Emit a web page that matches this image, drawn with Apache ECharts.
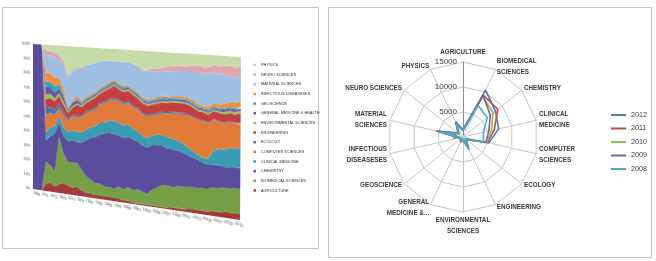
<!DOCTYPE html>
<html>
<head>
<meta charset="utf-8">
<title>Publications by field</title>
<script src="https://cdn.jsdelivr.net/npm/echarts@6.0.0/dist/echarts.min.js"></script>
<style>
    html, body { margin: 0; padding: 0; background: #fff; }
    #main { position: absolute; left: 0; top: 0; width: 656px; height: 261px; }
    #area { position: absolute; left: 0; top: 0; width: 300px; height: 200px; transform-origin: 0 0; }
</style>
</head>
<body>
<div id="main"></div>
<div id="area"></div>
<script>
var years = ['1969','1970','1971','1972','1973','1974','1975','1976','1977','1978',
    '1979','1980','1981','1982','1983','1984','1985','1986','1987','1988',
    '1989','1990','1991','1992','1993','1994','1995','1996','1997','1998',
    '1999','2000','2001','2002','2003','2004','2005','2006','2007','2008',
    '2009','2010','2011','2012'];

// share of each field per year (%), stacked bottom to top
var agriculture = [0,0,0,5,6,4,6,7,6,5,6,4,3,3,2,2,2,2,2,2,1.5,1.5,1,1,1,1,1,1,1,1,1.5,1.5,1.5,2,2,2,2.5,2.5,3,3,3.5,3.5,4,4];
var biomedical = [0,0,0,15,12,10,32,20,16,17,16,14,11,9,8,8,7,7,6,8,7,9,8,9,8,7,10,12,14,14,13,14,14,14,14,14,14,14,15,15,15,15,15,15];
var chemistry = [100,100,100,15,20,26,10,12,14,15,14,18,24,28,31,33,35,36,36,34,34,33,33,31,30,30,29,27,25,24,24,23,22,20,19,18,16,15,14,14,13,13,13,13];
var clinical = [0,0,0,5,6,5,4,6,6,7,7,7,7,7,7,8,7,8,9,8,8,8,7,7,6,6,6,7,7,7,7,6,6,5,4,3,3,4,9,10,11,12,12,12];
var computer = [0,0,0,12,10,8,6,8,8,9,10,10,11,11,11,12,13,13,14,14,14,14,14,14,14,14,13,13,14,15,16,17,18,20,21,22,23,22,19,17,16,16,15,15];
var ecology = [0,0,0,5,4,3,3,2,1,1,1,1,1,1,1,1,1,1,1,1,1,1,1,1,1,1,1,1,1,1,1,1,1,1,0.5,0.5,0.5,0.5,0.5,0.5,0.5,0.5,0.5,0.5];
var engineering = [0,0,0,6,6,6,5,5,4,5,7,6,6,6,7,6,7,7,8,7,7,7,7,6,6,6,6,6,6,6,6,6,6,6,6,5,5,5,5,5,5,5,5,6];
var environmental = [0,0,0,3,3,2,2,2,1,1,1,1,1,1,1,1,1,1,1,1,1,1,1,1,1,1,1,1,1,1,1,1,1,1,1,1,1,1,1,1,1.5,1.5,1.5,1.5];
var generalMedicine = [0,0,0,5,4,4,3,3,1,2,2,1,1,1,1,1,1,1,1,1,1,1,1,1,1,1,1,1,1,1,1,1,1,1,1,1,1,1,1,1,1.5,1.5,1.5,1.5];
var geoscience = [0,0,0,4,4,4,3,2,1,1,1,1,1,1,1,1,1,1,1,1,1,1,1,1,1,1,1,1,1,1,1,1,1,1,1,1,0.5,1,1,1,1,1,1,1];
var infectious = [0,0,0,6,6,6,4,4,1,1,2,1,1,1,1,1,1,1,1,1,1,1,1,1,1,1,1,1,1,1,1,1.5,1.5,1.5,1.5,1.5,1.5,1.5,2,2,2.5,3,3,3.5];
var material = [0,0,0,12,12,14,12,17,20,19,18,22,21,20,19,17,16,14,12,14,15.5,14.5,16,16,17,18,17,16,16,16,15.5,16,16,16.5,18,20,20,21,19,19,18,16,16,15];
var neuro = [0,0,0,3,3,3,3,2,1,1,1,0,0,0,0,0,0,0,0,0,0,0,0,1,1,1,2,2,2,3,3,3,3,3,4,4,4,4,4.5,5,5.5,6,6,6];
var physics = [0,0,0,4,4,5,7,10,20,16,14,14,12,11,10,9,8,8,8,8,8,8,9,10,12,12,11,11,10,9,9,8,8,8,7,7,8,7.5,6,6.5,6,6,6.5,6];

var fields = ['AGRICULTURE','BIOMEDICAL SCIENCES','CHEMISTRY','CLINICAL MEDICINE','COMPUTER SCIENCES',
    'ECOLOGY','ENGINEERING','ENVIRONMENTAL SCIENCES','GENERAL MEDICINE & HEALTH','GEOSCIENCE',
    'INFECTIOUS DISEASESES','MATERIAL SCIENCES','NEURO SCIENCES','PHYSICS'];
var shares = [agriculture, biomedical, chemistry, clinical, computer, ecology, engineering,
    environmental, generalMedicine, geoscience, infectious, material, neuro, physics];
var fieldColors = ['#a33b3b','#77a046','#5b4d9d','#3a9cb3','#e07a38','#3f78b8','#c43f3f',
    '#9bbf5e','#6654a6','#37a7bd','#f68b3d','#9dc0e2','#e0a5ad','#c6dba8'];

// radar: publications per field, clockwise from the top
var radarFields = ['AGRICULTURE','BIOMEDICAL\nSCIENCES','CHEMISTRY','CLINICAL\nMEDICINE','COMPUTER\nSCIENCES',
    'ECOLOGY','ENGINEERING','ENVIRONMENTAL\nSCIENCES','GENERAL\nMEDICINE &...','GEOSCIENCE',
    'INFECTIOUS\nDISEASESES','MATERIAL\nSCIENCES','NEURO SCIENCES','PHYSICS'];
var radarMax = 15000;
var radarYears = ['2012','2011','2010','2009','2008'];
var pub2012 = [1500,10400,8300,7300,5300,800,2700,600,900,600,800,5400,1300,3200];
var pub2011 = [1400,9300,8900,6400,5000,700,2500,600,1100,600,700,5100,1200,3100];
var pub2010 = [1300,9000,7700,5800,4900,700,2400,500,800,500,700,4900,1100,3000];
var pub2009 = [1300,9200,7000,5300,4700,600,2400,500,800,500,700,4800,1100,3300];
var pub2008 = [1200,7000,6200,4200,4200,600,2300,500,700,500,600,4700,1000,2800];
var yearColors = ['#4a7ebb','#be4b48','#98b954','#7d60a0','#4bacc6'];

// projective matrix taking the grid rectangle onto a quadrilateral (tilted 3d look)
function quadMatrix(gl, gt, gw, gh, q) {
    var x0 = q[0][0], y0 = q[0][1], x1 = q[1][0], y1 = q[1][1];
    var x2 = q[2][0], y2 = q[2][1], x3 = q[3][0], y3 = q[3][1];
    var dx1 = x1 - x2, dx2 = x3 - x2, dx3 = x0 - x1 + x2 - x3;
    var dy1 = y1 - y2, dy2 = y3 - y2, dy3 = y0 - y1 + y2 - y3;
    var den = dx1 * dy2 - dx2 * dy1;
    var g = (dx3 * dy2 - dx2 * dy3) / den;
    var h = (dx1 * dy3 - dx3 * dy1) / den;
    var a = x1 - x0 + g * x1, b = x3 - x0 + h * x3, c = x0;
    var d = y1 - y0 + g * y1, e = y3 - y0 + h * y3, f = y0;
    var m = [
        a / gw, d / gw, 0, g / gw,
        b / gh, e / gh, 0, h / gh,
        0, 0, 1, 0,
        c - a * gl / gw - b * gt / gh, f - d * gl / gw - e * gt / gh, 0, 1 - g * gl / gw - h * gt / gh
    ];
    return 'matrix3d(' + m.join(',') + ')';
}

var font = 'Liberation Sans';

(function () {
    // ---- left: 100% stacked area ----
    var GL = 45, GT = 20, GW = 207, GH = 145;
    var areaDom = document.getElementById('area');
    areaDom.style.transform = quadMatrix(GL, GT, GW, GH, [[33, 44], [241, 57], [240, 220], [33, 189]]);
    var areaChart = echarts.init(areaDom);

    var areaSeries = [];
    for (var i = 0; i < fields.length; i++) {
        areaSeries.push({
            name: fields[i],
            type: 'line',
            stack: 'share',
            data: shares[i],
            symbol: 'none',
            lineStyle: { width: 0 },
            areaStyle: { color: fieldColors[i], opacity: 1 },
            itemStyle: { color: fieldColors[i] }
        });
    }

    areaChart.setOption({
        animation: false,
        textStyle: { fontFamily: font },
        grid: { left: GL, top: GT, width: GW, height: GH },
        xAxis: {
            type: 'category',
            data: years,
            boundaryGap: false,
            axisLine: { show: false },
            axisTick: { show: false },
            axisLabel: { interval: 1, fontSize: 3.7, color: '#444', rotate: -14, margin: 3 }
        },
        yAxis: {
            type: 'value',
            min: 0,
            max: 100,
            interval: 10,
            axisLine: { show: false },
            axisTick: { show: false },
            splitLine: { show: false },
            axisLabel: { formatter: '{value}%', fontSize: 3.7, color: '#444', margin: 3 }
        },
        series: areaSeries
    });

    // ---- panels, radar and legends ----
    var main = echarts.init(document.getElementById('main'));

    // echarts lays radar indicators out anticlockwise, so feed them in reverse after the first
    var order = [0];
    for (var r = radarFields.length - 1; r > 0; r--) order.push(r);

    var indicator = [];
    for (var k = 0; k < order.length; k++) {
        var ind = { name: radarFields[order[k]], min: 0, max: radarMax };
        if (k === 0) {
            ind.axisLabel = { show: true };
            ind.axisLine = { lineStyle: { color: '#8c8c8c' } };
        }
        indicator.push(ind);
    }

    var pubs = [pub2012, pub2011, pub2010, pub2009, pub2008];
    var radarData = [];
    for (var j = 0; j < radarYears.length; j++) {
        var vals = [];
        for (var t = 0; t < order.length; t++) vals.push(pubs[j][order[t]]);
        radarData.push({
            name: radarYears[j],
            value: vals,
            itemStyle: { color: yearColors[j] },
            lineStyle: { color: yearColors[j], width: 1.6 }
        });
    }

    // empty bars only carry the field colours for the area chart's legend
    var legendSeries = [];
    for (var n = 0; n < fields.length; n++) {
        legendSeries.push({ name: fields[n], type: 'bar', data: [], itemStyle: { color: fieldColors[n] } });
    }

    main.setOption({
        animation: false,
        backgroundColor: '#fff',
        textStyle: { fontFamily: font },
        graphic: [
            { type: 'rect', shape: { x: 2.5, y: 7.5, width: 316, height: 241 },
              style: { fill: 'none', stroke: '#c4c4c4', lineWidth: 1 } },
            { type: 'rect', shape: { x: 328.5, y: 7.5, width: 323, height: 250 },
              style: { fill: 'none', stroke: '#c4c4c4', lineWidth: 1 } }
        ],
        grid: { show: false, left: 0, top: 0, width: 1, height: 1 },
        xAxis: { type: 'category', show: false },
        yAxis: { type: 'value', show: false },
        legend: [
            {
                data: radarYears,
                orient: 'vertical',
                left: 606,
                top: 105,
                icon: 'rect',
                itemWidth: 15,
                itemHeight: 2,
                itemGap: 3.5,
                itemTextGap: 1,
                textStyle: { fontSize: 7.2, color: '#404040', lineHeight: 10 }
            },
            {
                data: fields.slice().reverse(),
                orient: 'vertical',
                left: 248.5,
                top: 57,
                icon: 'rect',
                itemWidth: 2.5,
                itemHeight: 2.5,
                itemGap: 3.65,
                itemTextGap: 1.5,
                textStyle: { fontSize: 3.9, color: '#333', lineHeight: 6 }
            }
        ],
        radar: {
            center: [463, 137],
            radius: 75,
            startAngle: 90,
            shape: 'polygon',
            splitNumber: 3,
            indicator: indicator,
            nameGap: 3,
            axisName: { color: '#3a3a3a', fontSize: 6.3, fontWeight: 'bold', lineHeight: 11 },
            splitLine: { lineStyle: { color: '#c8c8c8', width: 1 } },
            splitArea: { show: false },
            axisLine: { lineStyle: { color: '#c8c8c8' } },
            axisTick: { show: false },
            axisLabel: {
                show: false, fontSize: 8, color: '#404040', margin: 6,
                formatter: function (v) { return String(v); }
            }
        },
        series: [{
            name: 'Publications',
            type: 'radar',
            symbol: 'none',
            data: radarData
        }].concat(legendSeries)
    });
})();
</script>
</body>
</html>
